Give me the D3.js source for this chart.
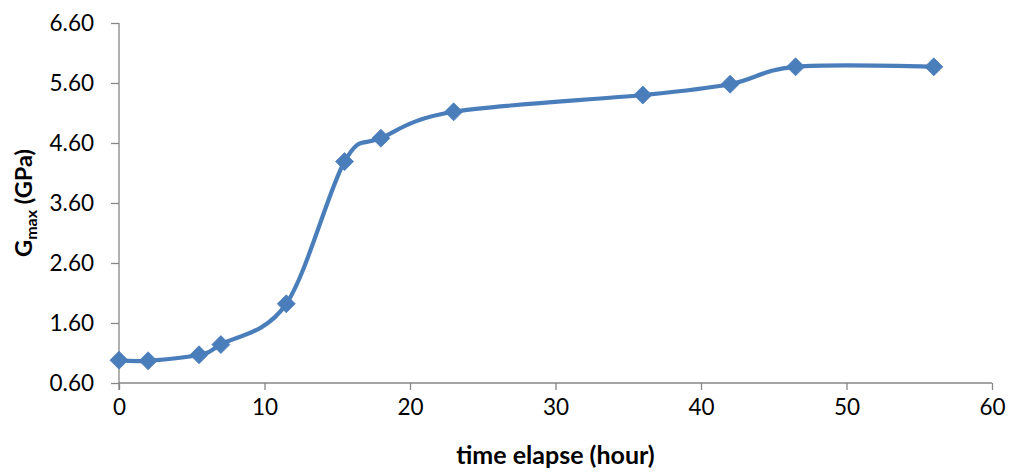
<!DOCTYPE html>
<html>
<head>
<meta charset="utf-8">
<script src="https://cdn.jsdelivr.net/npm/d3@7"></script>
<style>
  html, body { margin: 0; padding: 0; background: #ffffff; }
  svg { display: block; }
</style>
</head>
<body>
<svg id="chart" width="1012" height="473"></svg>
<script>
// Data
const timeHours = [0, 2, 5.5, 7, 11.5, 15.5, 18, 23, 36, 42, 46.5, 56];
const gmaxGPa   = [0.98, 0.97, 1.07, 1.24, 1.92, 4.29, 4.68, 5.12, 5.40, 5.58, 5.87, 5.87];
const xTickValues = [0, 10, 20, 30, 40, 50, 60];
const yTickValues = [0.6, 1.6, 2.6, 3.6, 4.6, 5.6, 6.6];
const xAxisTitle = "time elapse (hour)";
const yAxisTitleMain = "G";
const yAxisTitleSub = "max";
const yAxisTitleRest = " (GPa)";

(function () {
const points = timeHours.map((t, i) => ({ t: t, g: gmaxGPa[i] }));

const svg = d3.select("#chart");
const pLeft = 119, pRight = 992, pTop = 23, pBottom = 383;
const font = "Lato, 'Open Sans', sans-serif";
const axisColor = "#868686";
const lineColor = "#4A7EBB";

const x = d3.scaleLinear().domain([0, 60]).range([pLeft, pRight]);
const y = d3.scaleLinear().domain([0.6, 6.6]).range([pBottom, pTop]);

// X axis
const xAxis = d3.axisBottom(x).tickValues(xTickValues).tickSize(7).tickPadding(9)
  .tickFormat(d3.format("d"));
const gx = svg.append("g").attr("transform", `translate(0,${pBottom})`).call(xAxis);
gx.select(".domain").attr("stroke", axisColor).attr("stroke-width", 1.3)
  .attr("d", `M${pLeft},0H${pRight}`);
gx.selectAll(".tick line").attr("stroke", axisColor).attr("stroke-width", 1.3);
gx.selectAll(".tick text").attr("fill", "#000").style("font-family", font)
  .style("font-size", "22.5px");

// Y axis
const yAxis = d3.axisLeft(y).tickValues(yTickValues).tickSize(8).tickPadding(17)
  .tickFormat(d3.format(".2f"));
const gy = svg.append("g").attr("transform", `translate(${pLeft},0)`).call(yAxis);
gy.select(".domain").attr("stroke", axisColor).attr("stroke-width", 1.3)
  .attr("d", `M0,${pTop}V${pBottom + 7}`);
gy.selectAll(".tick line").attr("stroke", axisColor).attr("stroke-width", 1.3);
gy.selectAll(".tick text").attr("fill", "#000").style("font-family", font)
  .style("font-size", "22.5px");

// X axis title
svg.append("text")
  .attr("x", (pLeft + pRight) / 2)
  .attr("y", 464)
  .attr("text-anchor", "middle")
  .style("font-family", font)
  .style("font-weight", "bold")
  .style("font-size", "25px")
  .attr("fill", "#000")
  .text(xAxisTitle);

// Y axis title (rotated, with subscript)
const yt = svg.append("text")
  .attr("transform", `translate(32,${(pTop + pBottom) / 2}) rotate(-90)`)
  .attr("text-anchor", "middle")
  .style("font-family", font)
  .style("font-weight", "bold")
  .style("font-size", "23.5px")
  .attr("fill", "#000");
yt.append("tspan").text(yAxisTitleMain);
yt.append("tspan").attr("dy", 5).style("font-size", "16px").text(yAxisTitleSub);
yt.append("tspan").attr("dy", -5).text(yAxisTitleRest);

// Smoothed line
const line = d3.line()
  .x(d => x(d.t))
  .y(d => y(d.g))
  .curve(d3.curveCardinal.tension(0));

svg.append("path")
  .datum(points)
  .attr("d", line)
  .attr("fill", "none")
  .attr("stroke", lineColor)
  .attr("stroke-width", 4.2)
  .attr("stroke-linejoin", "round")
  .attr("stroke-linecap", "round");

// Diamond markers
const r = 9;
svg.append("g").selectAll("path")
  .data(points)
  .join("path")
  .attr("transform", d => `translate(${x(d.t)},${y(d.g)})`)
  .attr("d", `M0,${-r}L${r},0L0,${r}L${-r},0Z`)
  .attr("fill", lineColor)
  .attr("stroke", lineColor)
  .attr("stroke-width", 0.8);
})();
</script>
</body>
</html>
